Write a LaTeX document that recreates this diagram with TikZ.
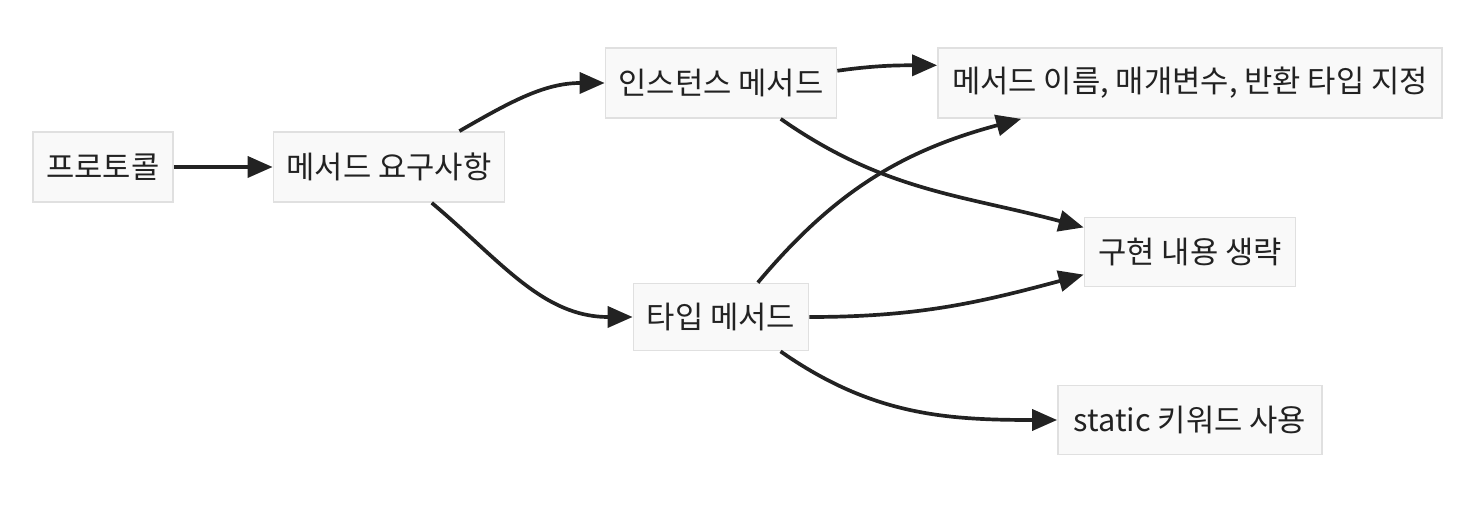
\documentclass[tikz,border=0pt]{standalone}
\usepackage{fontspec}
\setmainfont{Noto Sans CJK KR}
\usepackage{tikz}
\usetikzlibrary{arrows.meta}
\definecolor{boxfill}{RGB}{249,249,249}
\definecolor{boxline}{RGB}{224,224,224}
\definecolor{edgecol}{RGB}{34,34,34}

\begin{document}
\begin{tikzpicture}[>={Triangle[length=0.5cm,width=0.42cm]},
    font=\fontsize{17.5pt}{21pt}\selectfont,
    box/.style={draw=boxline, line width=1pt, fill=boxfill, text=edgecol, inner sep=0pt, minimum height=1.4cm},
    link/.style={->, draw=edgecol, line width=2.1pt}]
    \useasboundingbox (0,0) rectangle (29.64,-10.2);

    \node[box, minimum width=2.8cm] (proto) at (2.06,-3.34) {프로토콜};
    \node[box, minimum width=4.62cm] (req) at (7.78,-3.34) {메서드 요구사항};
    \node[box, minimum width=4.62cm] (inst) at (14.42,-1.66) {인스턴스 메서드};
    \node[box, minimum width=3.5cm, minimum height=1.34cm] (type) at (14.42,-6.34) {타입 메서드};
    \node[box, minimum width=10.08cm] (sig) at (23.8,-1.66) {메서드 이름, 매개변수, 반환 타입 지정};
    \node[box, minimum width=4.22cm, minimum height=1.38cm] (omit) at (23.8,-5.04) {구현 내용 생략};
    \node[box, minimum width=5.28cm, minimum height=1.38cm] (static) at (23.8,-8.4) {static 키워드 사용};

    \draw[link] (proto) -- (req);
    \draw[link] (req.27) to[out=30, in=180] (inst.west);
    \draw[link] (req.-40) to[out=-40, in=180] (type.west);
    \draw[link] (inst.6) to[out=8, in=180] (sig.176);
    \draw[link] (inst.-31) to[out=-35, in=165] (omit.167);
    \draw[link] (type.43) to[out=50, in=195] (sig.192);
    \draw[link] (type.east) to[out=0, in=195] (omit.192);
    \draw[link] (type.-30) to[out=-35, in=180] (static.west);
\end{tikzpicture}
\end{document}
